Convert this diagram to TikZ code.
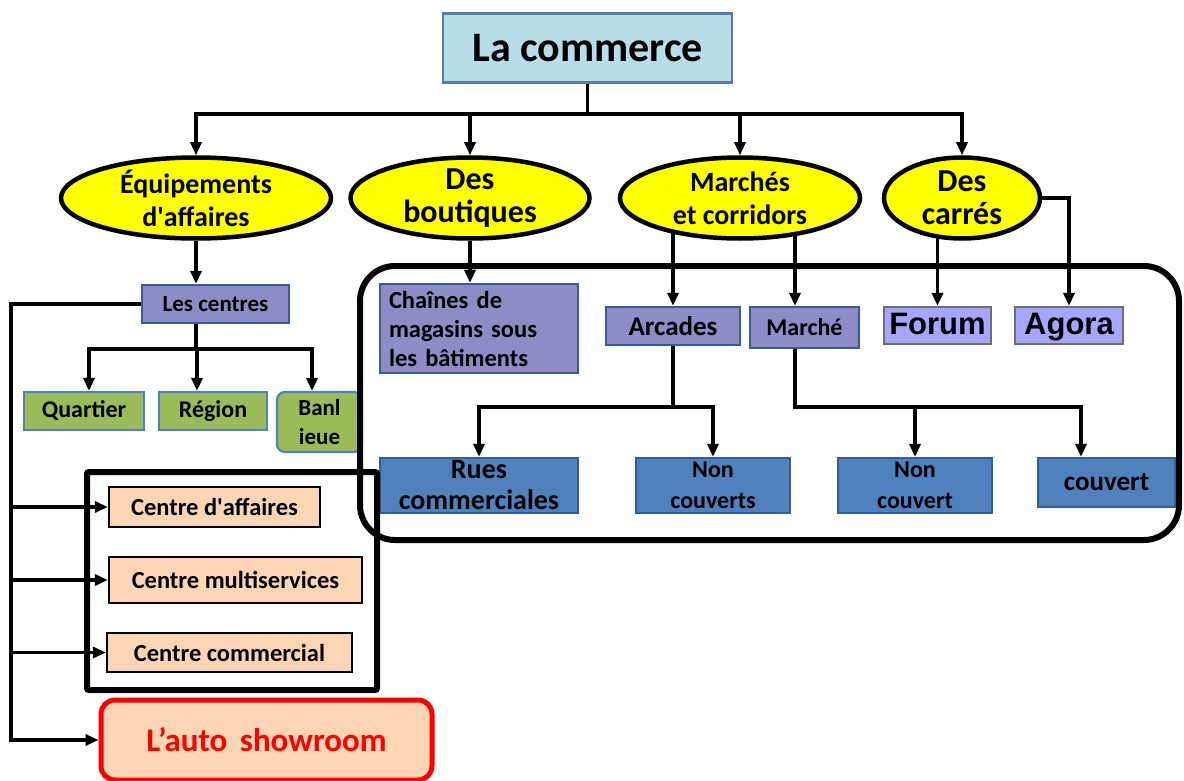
\documentclass[tikz,border=0pt]{standalone}
\usepackage{fontspec}
\setmainfont{Carlito}
\newfontfamily\arialfont{Liberation Sans}
\usetikzlibrary{shapes.geometric,arrows.meta,backgrounds}

\definecolor{ciel}{RGB}{183,221,232}
\definecolor{cielbord}{RGB}{84,125,170}
\definecolor{jaune}{RGB}{255,255,0}
\definecolor{mauve}{RGB}{141,140,198}
\definecolor{bleu}{RGB}{79,129,189}
\definecolor{bleufonce}{RGB}{56,93,150}
\definecolor{vert}{RGB}{155,187,89}
\definecolor{lila}{RGB}{166,166,255}
\definecolor{gris}{RGB}{110,110,110}
\definecolor{peche}{RGB}{252,213,181}

\newcommand{\taille}[2]{\fontsize{#1}{#2}\selectfont\bfseries}

\tikzset{
  arr/.style={-{Triangle[length=13pt,width=11pt]},line width=3.2pt},
  bulle/.style={ellipse,draw,line width=4.5pt,fill=jaune,align=center,
    inner sep=-8pt,minimum height=81pt,font=\taille{28}{33}},
  boite/.style={draw,line width=2.2pt,inner sep=0pt,align=center}
}

\begin{document}
\begin{tikzpicture}[x=1pt,y=-1pt]
  \useasboundingbox (0,0) rectangle (1184,781);

  \node[boite,draw=cielbord,fill=ciel,minimum width=289pt,minimum height=69pt,
    font=\taille{42}{46}] (commerce) at (587.5,48) {La commerce};

  \begin{scope}[every node/.style={bulle}]
    \node[minimum width=270pt] (equip) at (196,198) {Équipements\\d\textquotesingle affaires};
    \node[minimum width=239pt,font=\taille{32}{33}] (boutiques) at (470,198) {Des\\boutiques};
    \node[minimum width=240pt] (marches) at (740,198) {Marchés\\et corridors};
    \node[minimum width=156pt,font=\taille{32}{33}] (carres) at (962,198) {Des\\carrés};
  \end{scope}

  \begin{scope}[every node/.style={boite,draw=bleufonce,fill=mauve,font=\taille{24}{29}}]
    \node[minimum width=147pt,minimum height=38pt,font=\taille{23}{29}] (centres) at (215.5,304) {Les centres};
    \node[minimum width=198pt,minimum height=89pt,text width=180pt,align=left,
      inner xsep=9pt,font=\taille{24.5}{29}] (chaines) at (479,328.5) {Chaînes de\\magasins sous\\les bâtiments};
    \node[minimum width=134pt,minimum height=38pt,font=\taille{27}{29}] (arcades) at (673,326) {Arcades};
    \node[minimum width=109pt,minimum height=41pt] (marche) at (804.5,327.5) {Marché};
  \end{scope}

  \begin{scope}[every node/.style={boite,draw=gris,fill=lila,font=\arialfont\taille{31}{33},
      text height=23pt,text depth=6pt}]
    \node[minimum width=107pt,minimum height=37pt] (forum) at (937.5,325.5) {Forum};
    \node[minimum width=108pt,minimum height=37pt] (agora) at (1069,325.5) {Agora};
  \end{scope}

  \begin{scope}[every node/.style={boite,draw=bleu,fill=vert,font=\taille{24}{29}}]
    \node[minimum width=120pt,minimum height=38pt] (quartier) at (84,411) {Quartier};
    \node[minimum width=108pt,minimum height=38pt] (region) at (213,411) {Région};
    \node[minimum width=85pt,minimum height=60pt,rounded corners=8pt,
      font=\taille{23}{29}] (banlieue) at (319.5,422) {Banl\\ieue};
  \end{scope}

  \begin{scope}[every node/.style={boite,draw=bleufonce,fill=bleu,font=\taille{24}{31},
      minimum height=55pt}]
    \node[minimum width=198pt,font=\taille{28}{31}] (rues) at (479,485.5) {Rues\\commerciales};
    \node[minimum width=154pt] (noncouverts) at (713,485.5) {Non\\couverts};
    \node[minimum width=154pt] (noncouvert) at (915,485.5) {Non\\couvert};
    \node[minimum width=137pt,minimum height=49pt,font=\taille{27}{31}] (couvert) at (1106.5,482.5) {couvert};
  \end{scope}

  \begin{scope}[every node/.style={boite,fill=peche,font=\taille{24.5}{29}}]
    \node[minimum width=211pt,minimum height=40pt] (caff) at (214.5,507) {Centre d\textquotesingle affaires};
    \node[minimum width=253pt,minimum height=46pt] (cmulti) at (235.5,580) {Centre multiservices};
    \node[minimum width=245pt,minimum height=39pt] (ccom) at (229.5,652.5) {Centre commercial};
  \end{scope}

  \node[boite,draw=red,line width=5pt,rounded corners=14pt,fill=peche,text=red,
    minimum width=331pt,minimum height=80pt,font=\taille{33}{36}] (auto) at (266.5,740)
    {L’auto\hspace{5pt} showroom};

  \begin{scope}[on background layer]
    \coordinate (busA) at (0,114);
    \coordinate (busB) at (0,349);
    \coordinate (busC) at (0,407);
    \coordinate (spine) at (11,0);

    \foreach \n in {equip,boutiques,marches,carres}
      \draw[arr] (commerce.south) -- (commerce.south |- busA) -| (\n.north);

    \draw[arr] (equip.south) -- (equip.south |- centres.north);
    \foreach \n/\dx in {quartier/5,region/-16,banlieue/-7.5}
      \draw[arr] (equip.south |- centres.south) -- (equip.south |- busB) -| ([xshift=\dx pt]\n.north);

    \draw[arr] (centres.west) -| (spine |- auto.west) -- (auto.west);
    \foreach \n in {caff,cmulti,ccom}
      \draw[arr] (spine |- \n.west) -- (\n.west);

    \draw[arr] (boutiques.south) -- (boutiques.south |- chaines.north);
    \draw[arr] (arcades.north |- marches.center) -- (arcades.north);
    \draw[arr] ([xshift=-9.5pt]marche.north |- marches.center) -- ([xshift=-9.5pt]marche.north);
    \draw[arr] (forum.north |- carres.center) -- (forum.north);
    \draw[arr] (carres.east) -| (agora.north);

    \foreach \n in {rues,noncouverts}
      \draw[arr] (arcades.south) -- (arcades.south |- busC) -| (\n.north);
    \foreach \n/\dx in {noncouvert/0,couvert/-25.5}
      \draw[arr] ([xshift=-9.5pt]marche.south) -- ([xshift=-9.5pt]marche.south |- busC) -| ([xshift=\dx pt]\n.north);
  \end{scope}

  \draw[line width=6pt,rounded corners=35pt] (360,266) rectangle (1179,540);
  \draw[line width=6pt,rounded corners=2pt] (87,472) rectangle (377,690);

\end{tikzpicture}
\end{document}
